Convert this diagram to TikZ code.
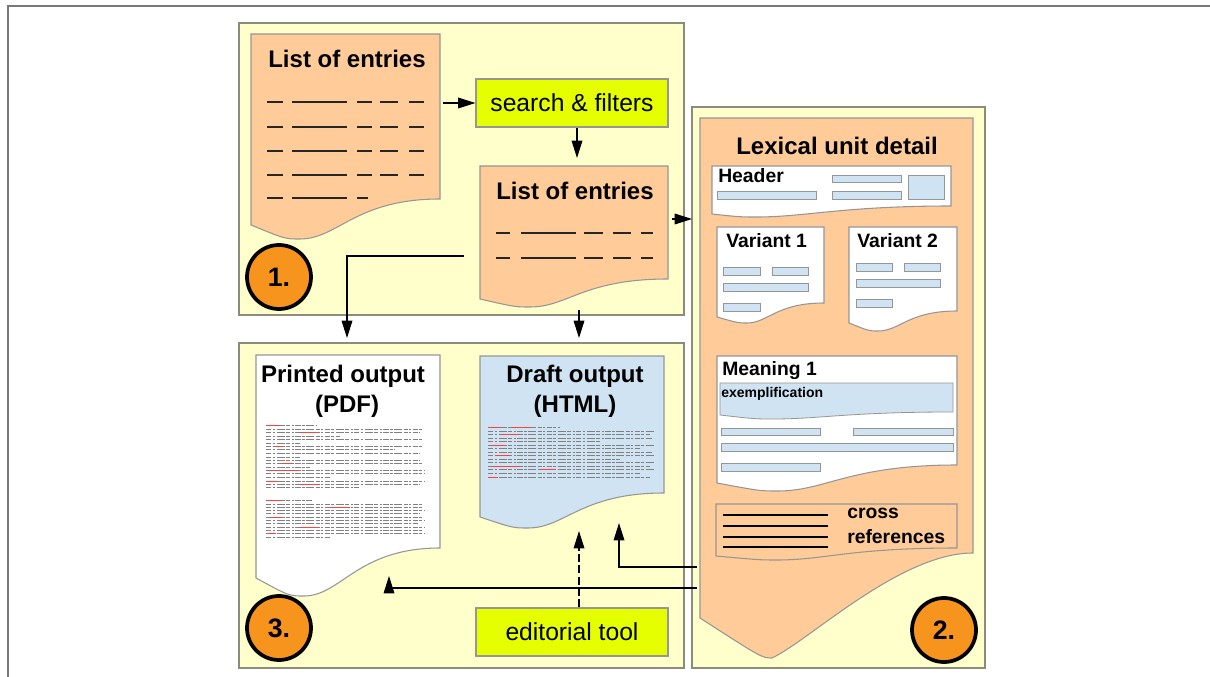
\documentclass[tikz,border=0pt]{standalone}
\usepackage{fontspec}
\setmainfont{Liberation Sans}
\usetikzlibrary{arrows.meta}

\definecolor{panelbg}{RGB}{255,255,204}
\definecolor{panelline}{RGB}{140,140,125}
\definecolor{docorange}{RGB}{255,204,153}
\definecolor{docline}{RGB}{150,150,150}
\definecolor{limebox}{RGB}{230,255,0}
\definecolor{paleblue}{RGB}{207,227,242}
\definecolor{badgeorange}{RGB}{247,148,29}
\definecolor{framegray}{RGB}{120,120,120}

\tikzset{
  panel/.style={draw=panelline, fill=panelbg, line width=1.2pt},
  docframe/.style={draw=docline, line width=0.8pt},
  toolbox/.style={draw=docline, fill=limebox, line width=0.8pt, minimum width=144pt, minimum height=36pt, inner sep=0pt, font=\fontsize{18.5}{20}\selectfont},
  bluebar/.style={draw=docline, fill=paleblue, line width=0.6pt},
  badge/.style={circle, draw=black, fill=badgeorange, line width=2.8pt, minimum size=48pt, inner sep=0pt, font=\bfseries\fontsize{20}{22}\selectfont},
  bigtitle/.style={font=\bfseries\fontsize{18}{20}\selectfont, inner sep=0pt, anchor=base},
  smalltitle/.style={font=\bfseries\fontsize{14.5}{16}\selectfont, inner sep=0pt, anchor=base west},
  flow/.style={line width=0.9pt, -{Triangle[length=13pt,width=8pt]}},
  listdash/.style={black!85, line width=1pt},
  fakeline/.style={black!50, line width=0.55pt, dash pattern=on 4pt off 1pt on 2pt off 1.3pt on 6pt off 1pt on 3pt off 1.2pt on 1.5pt off 1pt},
  fakered/.style={red!75, line width=0.55pt},
}

\begin{document}
\begin{tikzpicture}[x=0.75pt,y=0.75pt,yscale=-1,xscale=1]
\useasboundingbox (0,0) rectangle (1210,677);

%Outer frame
\draw [framegray, line width=1.5pt] (8,677) -- (8,6) -- (1210,6) ;

%Shape: Rectangle (panels)
\draw [panel] (239,23) rectangle (684,315) ;
\draw [panel] (239,343) rectangle (684,668) ;
\draw [panel] (692,107) rectangle (985,668) ;

%Flowchart: Document (first list)
\draw [docframe, fill=docorange] (251,34) -- (440,34) -- (440,199) .. controls (355,199) and (338,239) .. (300,239) .. controls (285,239) .. (251,225) -- cycle ;
\foreach \y in {102,127,151,175} {
  \draw [listdash] (267,\y) -- (283,\y) (292,\y) -- (347,\y) (357,\y) -- (372,\y) (380,\y) -- (398,\y) (409,\y) -- (424,\y) ;
}
\draw [listdash] (267,198) -- (283,198) (292,198) -- (347,198) (357,198) -- (368,198) ;

%Flowchart: Document (second list)
\draw [docframe, fill=docorange] (480,166) -- (668,166) -- (668,279) .. controls (583,279) and (568,307) .. (530,307) .. controls (515,307) .. (480,299) -- cycle ;
\foreach \y in {233,258} {
  \draw [listdash] (496,\y) -- (510,\y) (521,\y) -- (576,\y) (584,\y) -- (603,\y) (613,\y) -- (631,\y) (641,\y) -- (653,\y) ;
}

%Flowchart: Document (printed output)
\draw [docframe, fill=white] (256,355) -- (440,355) -- (440,548) .. controls (357,548) and (341,596) .. (304,596) .. controls (289,596) .. (256,578) -- cycle ;
\foreach \y/\e in {425/316,429/423,432/420,436/340,439/422,443/300,446/423,449/395,453/420,457/300,460/420,463/423,467/310,470/425,473/424,477/330,481/424,484/420,487/360,500/312,504/423,507/422,510/424,513/420,517/423,520/424,523/418,527/424,530/422,533/424,537/330} {
  \draw [fakeline] (266,\y) -- (\e,\y) ;
}
\foreach \y/\a/\b in {425/266/280,432/300/318,446/275/283,463/282/292,470/268/300,481/266/278,484/300/320,500/266/282,507/330/350,517/270/282,527/300/318,533/268/276} {
  \draw [fakered] (\a,\y) -- (\b,\y) ;
}

%Flowchart: Document (draft output)
\draw [docframe, fill=paleblue] (480,356) -- (664,356) -- (664,493) .. controls (581,493) and (565,528) .. (528,528) .. controls (513,528) .. (480,517) -- cycle ;
\foreach \y/\e in {427/560,431/654,434/650,438/652,441/600,445/655,448/640,452/652,455/654,459/620,462/655,466/650,469/654,473/640,477/650} {
  \draw [fakeline] (488,\y) -- (\e,\y) ;
}
\foreach \y/\a/\b in {427/488/500,427/512/530,434/500/520,445/490/506,455/495/510,466/492/520,469/540/556,477/488/498} {
  \draw [fakered] (\a,\y) -- (\b,\y) ;
}

%Flowchart: Document (lexical unit detail)
\draw [docframe, fill=docorange] (700,118) -- (973,118) -- (973,553) .. controls (900,553) and (810,640) .. (772,658) .. controls (762,658) .. (700,618) -- cycle ;
\draw [docframe, fill=white] (712,166) -- (951,166) -- (951,206) .. controls (843,206) and (805,217) .. (757,217) .. controls (740,217) .. (712,214) -- cycle ;
\draw [docframe, fill=white] (717,227) -- (824,227) -- (824,303) .. controls (776,303) and (768,323) .. (747,323) .. controls (738,323) .. (717,317) -- cycle ;
\draw [docframe, fill=white] (849,227) -- (957,227) -- (957,311) .. controls (908,311) and (900,331) .. (878,331) .. controls (869,331) .. (849,323) -- cycle ;
\draw [docframe, fill=white] (717,356) -- (957,356) -- (957,465) .. controls (849,465) and (826,491) .. (778,491) .. controls (760,491) .. (717,483) -- cycle ;
\draw [bluebar] (720,383) -- (953,383) -- (953,412) .. controls (848,412) and (820,419) .. (773,419) .. controls (755,419) .. (720,415) -- cycle ;
\draw [docframe, fill=docorange] (716,504) -- (957,504) -- (957,548) .. controls (849,548) and (825,560) .. (777,560) .. controls (760,560) .. (716,556) -- cycle ;
\foreach \xa/\ya/\xb/\yb in {717/191/816/199,832/175/901/182,832/191/901/199,908/175/944/199,
  723/267/760/275,772/267/808/275,723/283/808/291,723/303/760/311,
  856/263/892/271,904/263/940/271,856/279/940/287,856/299/892/307,
  721/428/820/435,853/428/953/435,721/443/953/451,721/463/820/471} {
  \draw [bluebar] (\xa,\ya) rectangle (\xb,\yb) ;
}
\foreach \y in {515,526,537,547} {
  \draw [black, line width=0.8pt] (723,\y) -- (828,\y) ;
}

% Text Node
\draw (347,68) node [bigtitle] (listA) {List of entries};
% Text Node
\draw (575,200) node [bigtitle] (listB) {List of entries};
% Text Node
\draw (837,155) node [bigtitle] (lexunit) {Lexical unit detail};
% Text Node
\draw (343,382) node [bigtitle] (printed) {Printed output};
% Text Node
\draw (347,412) node [bigtitle] (pdf) {(PDF)};
% Text Node
\draw (575,382) node [bigtitle] (draft) {Draft output};
% Text Node
\draw (575,412) node [bigtitle] (html) {(HTML)};
% Text Node
\draw (718,183) node [smalltitle] (header) {Header};
% Text Node
\draw (726,248) node [smalltitle] (varA) {Variant 1};
% Text Node
\draw (857,248) node [smalltitle] (varB) {Variant 2};
% Text Node
\draw (722,375) node [smalltitle] (meaning) {Meaning 1};
% Text Node
\draw (721,397) node [smalltitle, font=\bfseries\fontsize{10.5}{12}\selectfont] (exempl) {exemplification};
% Text Node
\draw (847,518) node [smalltitle] (cross) {cross};
% Text Node
\draw (847,543) node [smalltitle] (refs) {references};

% Tool boxes
\draw (572,103) node [toolbox] (search) {search \& filters};
\draw (572,632) node [toolbox] (editor) {editorial tool};

% Step badges
\draw (279,277) node [badge] (one) {1.};
\draw (944,630) node [badge] (two) {2.};
\draw (279,628) node [badge] (three) {3.};

% Connector ends
\coordinate (listAout) at (443,103);
\coordinate (listBin) at (577,158);
\coordinate (listBout) at (672,219);
\coordinate (detailin) at (692,219);
\coordinate (listBside) at (464,256);
\coordinate (pdfin) at (347,338);
\coordinate (listBfoot) at (579,310);
\coordinate (htmlin) at (579,338);
\coordinate (htmlfoot) at (579,531);
\coordinate (htmlfootB) at (619,523);
\coordinate (pdffoot) at (389,576);
\coordinate (detailA) at (697,567);
\coordinate (detailB) at (697,588);

%Straight Lines
\draw [flow] (listAout) -- (search) ;
\draw [flow] (listBin |- search.south) -- (listBin) ;
\draw [flow] (listBout) -- (detailin) ;
\draw [flow] (listBside) -| (pdfin) ;
\draw [flow] (listBfoot) -- (htmlin) ;
\draw [flow, dash pattern=on 6pt off 2.5pt] (htmlfoot |- editor.north) -- (htmlfoot) ;
\draw [flow] (detailA) -| (htmlfootB) ;
\draw [flow] (detailB) -| (pdffoot) ;

\end{tikzpicture}
\end{document}
